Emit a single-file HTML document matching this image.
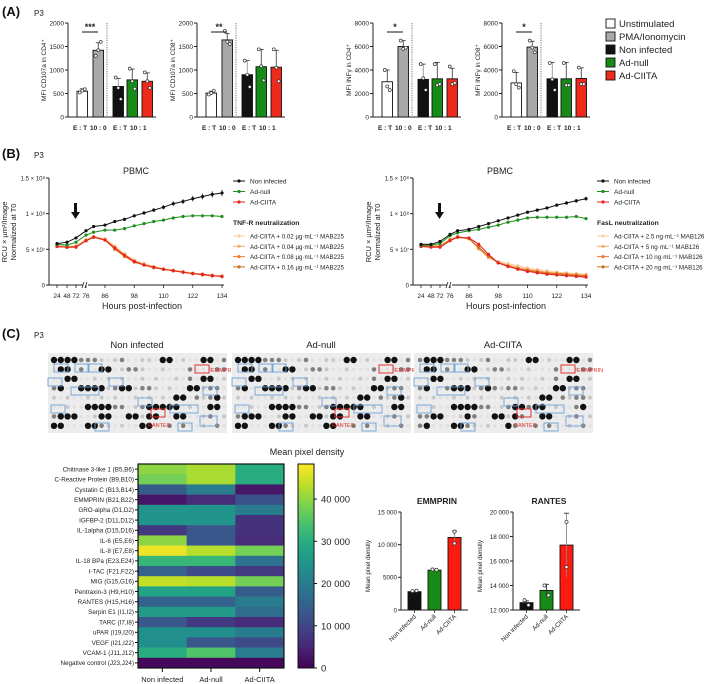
<!DOCTYPE html>
<html><head><meta charset="utf-8">
<style>
html,body{margin:0;padding:0;background:#fff;}
svg{display:block;font-family:"Liberation Sans",Arial,sans-serif;}
</style></head>
<body>
<svg id="fig" width="709" height="684" viewBox="0 0 709 684" xmlns="http://www.w3.org/2000/svg"></svg>
<script>
// ---------- Panel A data ----------
const aGroups = ["Unstimulated","PMA/Ionomycin","Non infected","Ad-null","Ad-CIITA"];
const aCD4Vals = [550,1420,650,790,760];
const aCD4Errs = [50,160,170,230,180];
const aCD4Pts = [[520,560,590],[1300,1420,1600],[840,620,380],[1030,760,600],[950,760,620]];
const aCD8Vals = [510,1640,900,1070,1060];
const aCD8Errs = [40,140,300,370,360];
const aCD8Pts = [[480,510,560],[1830,1600,1550],[1200,900,640],[1440,1080,780],[1440,1050,760]];
const aIFN4Vals = [3000,6000,3200,3250,3250];
const aIFN4Errs = [1000,500,1300,1400,900];
const aIFN4Pts = [[4000,2600,2300],[6500,5800,5900],[4500,3300,2300],[4500,2700,2800],[4300,2800,2900]];
const aIFN8Vals = [2900,5950,3250,3250,3280];
const aIFN8Errs = [900,500,1400,1400,900];
const aIFN8Pts = [[3900,2800,2500],[6500,5900,5500],[4600,3200,2300],[4600,2700,2700],[4200,2800,2800]];
const aTicks2000 = [0,500,1000,1500,2000];
const aTicks8000 = [0,2000,4000,6000,8000];
// ---------- Panel B data ----------
const bHours = [24,48,72,76,80,86,90,94,98,102,106,110,114,118,122,126,130,134];
const bTickHours = [24,48,72,76,86,98,110,122,134];
const bYTicks = [0,0.5,1.0,1.5];
const bYTickLabels = ["0","5 × 10⁷","1 × 10⁸","1.5 × 10⁸"];
const bL_NI = [0.58,0.60,0.66,0.76,0.82,0.84,0.89,0.92,0.97,1.01,1.05,1.09,1.14,1.17,1.21,1.24,1.27,1.29];
const bL_Null = [0.57,0.56,0.60,0.70,0.74,0.77,0.77,0.79,0.83,0.86,0.89,0.91,0.94,0.96,0.97,0.97,0.97,0.96];
const bL_CIITA = [0.54,0.53,0.53,0.62,0.67,0.63,0.52,0.42,0.33,0.28,0.25,0.22,0.20,0.18,0.16,0.15,0.13,0.12];
const bL_T1 = [0.55,0.54,0.55,0.64,0.68,0.65,0.55,0.44,0.35,0.30,0.26,0.23,0.21,0.19,0.17,0.15,0.14,0.13];
const bL_T2 = [0.55,0.54,0.54,0.63,0.68,0.64,0.53,0.42,0.34,0.29,0.25,0.22,0.20,0.18,0.16,0.15,0.13,0.12];
const bL_T3 = [0.54,0.53,0.54,0.62,0.67,0.63,0.50,0.40,0.32,0.28,0.24,0.22,0.20,0.18,0.16,0.14,0.13,0.12];
const bL_T4 = [0.54,0.53,0.54,0.62,0.67,0.63,0.51,0.41,0.33,0.28,0.25,0.22,0.20,0.18,0.16,0.15,0.13,0.12];
const bR_NI = [0.57,0.57,0.61,0.71,0.76,0.78,0.82,0.86,0.90,0.94,0.98,1.02,1.05,1.08,1.12,1.15,1.18,1.21];
const bR_Null = [0.56,0.56,0.58,0.69,0.73,0.76,0.78,0.81,0.84,0.88,0.91,0.94,0.95,0.95,0.95,0.95,0.96,0.93];
const bR_CIITA = [0.54,0.53,0.53,0.62,0.67,0.66,0.57,0.43,0.31,0.26,0.22,0.19,0.17,0.15,0.14,0.13,0.12,0.11];
const bR_F1 = [0.56,0.55,0.55,0.64,0.68,0.65,0.50,0.38,0.33,0.30,0.27,0.24,0.22,0.20,0.18,0.17,0.16,0.15];
const bR_F2 = [0.55,0.55,0.55,0.64,0.68,0.65,0.51,0.39,0.32,0.28,0.25,0.22,0.20,0.18,0.17,0.16,0.15,0.14];
const bR_F3 = [0.55,0.54,0.54,0.63,0.67,0.65,0.52,0.40,0.31,0.27,0.23,0.21,0.19,0.17,0.16,0.15,0.14,0.13];
const bR_F4 = [0.55,0.54,0.54,0.63,0.67,0.65,0.53,0.41,0.31,0.26,0.23,0.20,0.18,0.16,0.15,0.14,0.13,0.12];
// ---------- Panel C data ----------
const hmRows = ["Chitinase 3-like 1 (B5,B6)","C-Reactive Protein (B9,B10)","Cystatin C (B13,B14)","EMMPRIN (B21,B22)","GRO-alpha (D1,D2)","IGFBP-2 (D11,D12)","IL-1alpha (D15,D16)","IL-6 (E5,E6)","IL-8 (E7,E8)","IL-18 BPa (E23,E24)","I-TAC (F21,F22)","MIG (G15,G16)","Pentraxin-3 (H9,H10)","RANTES (H15,H16)","Serpin E1 (I1,I2)","TARC (I7,I8)","uPAR (I19,I20)","VEGF (I21,I22)","VCAM-1 (J11,J12)","Negative control (J23,J24)"];
const hmCols = ["Non infected","Ad-null","Ad-CIITA"];
const hmNonInf = [40000,38000,14000,3000,25000,25000,8000,40000,47000,32000,15000,44000,28000,15000,26000,13000,24000,24000,30000,1000];
const hmAdNull = [42000,42000,20000,6000,25000,25000,13000,13000,43000,32000,11000,43000,28000,15000,26000,8000,24000,13000,35000,1000];
const hmAdCIITA = [30000,30000,3000,12000,20000,7000,7000,6000,38000,18000,8000,38000,14000,20000,17000,6000,20000,11000,20000,1000];
const cbTicks = [0,10000,20000,30000,40000];
const cbTickLabels = ["0","10 000","20 000","30 000","40 000"];
const emCats = ["Non infected","Ad-null","Ad-CIITA"];
const emVals = [2800,6100,11100];
const emErrs = [150,100,1000];
const emPts = [[2900,2950],[6200,6150],[12000,10200]];
const emTicks = [0,5000,10000,15000];
const emTickLabels = ["0","5000","10 000","15 000"];
const raVals = [12600,13600,17300];
const raErrs = [150,500,2600];
const raPts = [[12800,12400],[14000,13200],[19200,15500]];
const raTicks = [12000,14000,16000,18000,20000];
const raTickLabels = ["12 000","14 000","16 000","18 000","20 000"];

const NS = "http://www.w3.org/2000/svg";
const svg = document.getElementById("fig");
function el(tag, attrs, name, parent){
  const e = document.createElementNS(NS, tag);
  for (const k in attrs) e.setAttribute(k, attrs[k]);
  
  
  (parent || svg).appendChild(e);
  return e;
}
function tx(x, y, s, attrs, name, parent){
  const a = Object.assign({x:x, y:y, 'font-size':7, fill:'#222'}, attrs || {});
  const e = el('text', a, name, parent);
  e.textContent = s;
  return e;
}
function line(x1,y1,x2,y2,stroke,w,name,parent,extra){
  return el('line', Object.assign({x1:x1,y1:y1,x2:x2,y2:y2,stroke:stroke,'stroke-width':w}, extra||{}), name, parent);
}

// ================= PANEL A =================
tx(2, 16, "(A)", {'font-size':13,'font-weight':'bold',fill:'#111'}, "panel-a-label");
tx(34, 16, "P3", {'font-size':8}, "panel-a-p3");
const aColors = ["#ffffff","#a9a9a9","#111111","#178a17","#ee2a1d"];
const aOffsets = [9,25,45,59,74];
function aChart(id, ax, maxV, ticks, vals, errs, pts, ylab, sig){
  const g = el('g', {}, id + "-chart");
  const y0 = 117, yT = 23;
  const ys = v => y0 - (v / maxV) * (y0 - yT);
  line(ax, yT, ax, y0, '#222', 1, id + "-y-axis", g);
  line(ax, y0, ax + 88, y0, '#222', 1, id + "-x-axis", g);
  ticks.forEach(t => {
    line(ax - 3, ys(t), ax, ys(t), '#222', 1, id + "-y-tick", g);
    tx(ax - 4, ys(t) + 2.5, String(t), {'font-size':6.5,'text-anchor':'end'}, id + "-y-tick-label", g);
  });
  tx(0, 0, ylab, {'font-size':6.5,'text-anchor':'middle',transform:`translate(${ax-22},${(y0+yT)/2}) rotate(-90)`}, id + "-y-axis-title", g);
  line(ax + 39, yT, ax + 39, y0, '#555', 0.8, id + "-divider", g, {'stroke-dasharray':'1.2,1.2'});
  vals.forEach((v, i) => {
    const bx = ax + aOffsets[i], w = 10.5;
    el('rect', {x:bx, y:ys(v), width:w, height:y0 - ys(v), fill:aColors[i], stroke:'#111','stroke-width':0.9}, id + "-bar-" + i, g);
    const cx = bx + w/2, ye = ys(v + errs[i]);
    line(cx, ys(v), cx, ye, i === 2 ? '#888' : '#333', 0.8, id + "-error-bar", g);
    line(cx - 2.5, ye, cx + 2.5, ye, '#333', 0.8, id + "-error-cap", g);
    pts[i].forEach((p, j) => {
      el('circle', {cx: cx + (j - 1) * 2.5, cy: ys(p), r:1.5, fill:'#fff', stroke:'#333','stroke-width':0.7}, id + "-point", g);
    });
  });
  line(ax + 14, 32, ax + 30, 32, '#111', 1, id + "-sig-line", g);
  tx(ax + 22, 30, sig, {'font-size':9,'font-weight':'bold','text-anchor':'middle'}, id + "-sig-stars", g);
  tx(ax + 5, 130, "E : T", {'font-size':6.5,'font-weight':'bold'}, id + "-et-label-1", g);
  tx(ax + 22, 130, "10 : 0", {'font-size':6.5,'font-weight':'bold'}, id + "-ratio-label-1", g);
  tx(ax + 45, 130, "E : T", {'font-size':6.5,'font-weight':'bold'}, id + "-et-label-2", g);
  tx(ax + 62, 130, "10 : 1", {'font-size':6.5,'font-weight':'bold'}, id + "-ratio-label-2", g);
}
aChart("cd107a-cd4", 68, 2000, aTicks2000, aCD4Vals, aCD4Errs, aCD4Pts, "MFI CD107a in CD4⁺", "***");
aChart("cd107a-cd8", 197, 2000, aTicks2000, aCD8Vals, aCD8Errs, aCD8Pts, "MFI CD107a in CD8⁺", "**");
aChart("ifng-cd4", 373, 8000, aTicks8000, aIFN4Vals, aIFN4Errs, aIFN4Pts, "MFI INFγ in CD4⁺", "*");
aChart("ifng-cd8", 502, 8000, aTicks8000, aIFN8Vals, aIFN8Errs, aIFN8Pts, "MFI INFγ in CD8⁺", "*");
aGroups.forEach((gname, i) => {
  const y = 19 + i * 13;
  el('rect', {x:606, y:y, width:9, height:9, fill:aColors[i], stroke:'#111','stroke-width':0.9}, "legend-swatch-" + i);
  tx(619, y + 8, gname, {'font-size':9.5}, "legend-entry-" + i);
});

// ================= PANEL B =================
tx(2, 158, "(B)", {'font-size':13,'font-weight':'bold',fill:'#111'}, "panel-b-label");
tx(34, 158, "P3", {'font-size':8}, "panel-b-p3");
const xAnch = [[24,57],[48,67],[72,76],[76,86],[86,105],[134,222]];
function bx(h, off){
  for (let i = 0; i < xAnch.length - 1; i++){
    const [h0,p0] = xAnch[i], [h1,p1] = xAnch[i+1];
    if (h <= h1) return off + p0 + (h - h0) / (h1 - h0) * (p1 - p0);
  }
  return off + 222;
}
const byS = v => 285 - v / 1.5 * (285 - 178);
function bChart(id, off, series, legendHeader, legendTreat){
  const g = el('g', {}, id + "-chart");
  const ax = 49 + off;
  line(ax, 178, ax, 285, '#222', 1, id + "-y-axis", g);
  line(ax, 285, 83 + off, 285, '#222', 1, id + "-x-axis-left", g);
  line(88 + off, 285, 224 + off, 285, '#222', 1, id + "-x-axis-right", g);
  line(82 + off, 288, 84 + off, 282, '#222', 0.8, id + "-axis-break-1", g);
  line(85 + off, 288, 87 + off, 282, '#222', 0.8, id + "-axis-break-2", g);
  bYTicks.forEach((t, i) => {
    line(ax - 3, byS(t), ax, byS(t), '#222', 1, id + "-y-tick", g);
    tx(ax - 4, byS(t) + 2.5, bYTickLabels[i], {'font-size':6,'text-anchor':'end'}, id + "-y-tick-label", g);
  });
  bTickHours.forEach(h => {
    line(bx(h, off), 285, bx(h, off), 288, '#222', 0.8, id + "-x-tick", g);
    tx(bx(h, off), 298, String(h), {'font-size':6.5,'text-anchor':'middle'}, id + "-x-tick-label", g);
  });
  tx(142 + off, 309, "Hours post-infection", {'font-size':9,'text-anchor':'middle'}, id + "-x-axis-title", g);
  tx(0, 0, "RCU × µm²/Image", {'font-size':7.5,'text-anchor':'middle',transform:`translate(${off+7},232) rotate(-90)`}, id + "-y-axis-title-1", g);
  tx(0, 0, "Normalized at T0", {'font-size':7.5,'text-anchor':'middle',transform:`translate(${off+16},232) rotate(-90)`}, id + "-y-axis-title-2", g);
  tx(136 + off, 174, "PBMC", {'font-size':9,'text-anchor':'middle'}, id + "-title", g);
  el('path', {d:`M${74+off},203 L${74+off},212 L${71+off},212 L${75.5+off},219 L${80+off},212 L${77+off},212 L${77+off},203 Z`, fill:'#111'}, id + "-infection-arrow", g);
  series.forEach(s => {
    let d = "";
    s.vals.forEach((v, i) => { d += (i ? "L" : "M") + bx(bHours[i], off).toFixed(1) + "," + byS(v).toFixed(1); });
    el('path', {d:d, fill:'none', stroke:s.color, 'stroke-width':1}, id + "-line-" + s.key, g);
    s.vals.forEach((v, i) => {
      if (s.err && i > 3) {
        const e = s.err * (i / bHours.length);
        line(bx(bHours[i], off), byS(v - e), bx(bHours[i], off), byS(v + e), s.color, 0.7, id + "-error-" + s.key, g);
      }
      el('circle', {cx:bx(bHours[i], off), cy:byS(v), r:1.6, fill:s.color}, id + "-point-" + s.key, g);
    });
  });
  const lx = 233 + off;
  const main = series.slice(-3).reverse();
  main.forEach((s, i) => {
    const y = 181 + i * 10.5;
    line(lx, y, lx + 12, y, s.color, 1, id + "-legend-line", g);
    el('circle', {cx:lx + 6, cy:y, r:1.6, fill:s.color}, id + "-legend-marker", g);
    tx(lx + 17, y + 2.5, s.label, {'font-size':6.5}, id + "-legend-entry", g);
  });
  tx(lx, 225, legendHeader, {'font-size':6.8,'font-weight':'bold'}, id + "-legend-header", g);
  series.slice(0, 4).forEach((s, i) => {
    const y = 236 + i * 10.3;
    line(lx, y, lx + 12, y, s.color, 1, id + "-legend-line", g);
    el('circle', {cx:lx + 6, cy:y, r:1.6, fill:s.color}, id + "-legend-marker", g);
    tx(lx + 17, y + 2.5, legendTreat[i], {'font-size':6.2}, id + "-legend-entry", g);
  });
}
const tCols = ["#f9cfa3","#f7ac6c","#f07a30","#c77221"];
bChart("tnfr", 0, [
  {key:"t1",vals:bL_T1,color:tCols[0],err:0.03},
  {key:"t2",vals:bL_T2,color:tCols[1],err:0.03},
  {key:"t3",vals:bL_T3,color:tCols[2],err:0.03},
  {key:"t4",vals:bL_T4,color:tCols[3],err:0.03},
  {key:"ciita",vals:bL_CIITA,color:"#e8231f",label:"Ad-CIITA",err:0.02},
  {key:"null",vals:bL_Null,color:"#1e8f1e",label:"Ad-null",err:0.02},
  {key:"ni",vals:bL_NI,color:"#111",label:"Non infected",err:0.05}
], "TNF-R neutralization", ["Ad-CIITA + 0.02 µg·mL⁻¹  MAB225","Ad-CIITA + 0.04 µg·mL⁻¹  MAB225","Ad-CIITA + 0.08 µg·mL⁻¹  MAB225","Ad-CIITA + 0.16 µg·mL⁻¹  MAB225"]);
bChart("fasl", 364, [
  {key:"f1",vals:bR_F1,color:tCols[0],err:0.03},
  {key:"f2",vals:bR_F2,color:tCols[1],err:0.03},
  {key:"f3",vals:bR_F3,color:tCols[2],err:0.03},
  {key:"f4",vals:bR_F4,color:tCols[3],err:0.03},
  {key:"ciita",vals:bR_CIITA,color:"#e8231f",label:"Ad-CIITA",err:0.02},
  {key:"null",vals:bR_Null,color:"#1e8f1e",label:"Ad-null",err:0.02},
  {key:"ni",vals:bR_NI,color:"#111",label:"Non infected",err:0.03}
], "FasL neutralization", ["Ad-CIITA + 2.5 ng·mL⁻¹  MAB126","Ad-CIITA + 5 ng·mL⁻¹  MAB126","Ad-CIITA + 10 ng·mL⁻¹  MAB126","Ad-CIITA + 20 ng·mL⁻¹  MAB126"]);

// ================= PANEL C =================
tx(2, 338, "(C)", {'font-size':13,'font-weight':'bold',fill:'#111'}, "panel-c-label");
tx(34, 338, "P3", {'font-size':8}, "panel-c-p3");
const blotPattern = [
  "####ooo- -o  -- ## -  ## o",
  " ## o  ## -oo-  -   o  -oo",
  "  ##  - - -  - -  - o ## -",
  "o#  ####-o##-oo- -  ##-oo ",
  "- -  - - -  - - - ## o-o#-",
  "  -  ####oo -o##### -  ## ",
  "o###  -##  ##-##  ##  -o -",
  "##   ##o- -  ##  o o  - o "
];
const blots = [{x:48,t:"Non infected"},{x:232,t:"Ad-null"},{x:414,t:"Ad-CIITA"}];
blots.forEach((b, bi) => {
  const g = el('g', {}, "blot-" + bi);
  tx(b.x + 89, 348, b.t, {'font-size':9.5,'text-anchor':'middle'}, "blot-title-" + bi, g);
  el('rect', {x:b.x, y:353, width:179, height:80, fill:'#ececec'}, "blot-membrane-" + bi, g);
  blotPattern.forEach((row, r) => {
    for (let c = 0; c < row.length; c++){
      let ch = row[c];
      if (bi === 2 && (r + c) % 7 === 0 && ch === '#') ch = 'o';
      const cx = b.x + 6 + c * 6.8, cy = 360 + r * 9.4;
      let fill = '#e2e2e2', rr = 1.8;
      if (ch === '#') { fill = '#111'; rr = 3.2; }
      else if (ch === 'o') { fill = '#808080'; rr = 2.3; }
      else if (ch === '-') { fill = '#c8c8c8'; rr = 2.0; }
      el('circle', {cx:cx, cy:cy, r:rr, fill:fill}, "blot-spot", g);
    }
  });
  [[6,364,14,8],[27,364,14,8],[40,364,14,8],[0,378,14,8],[23,387,28,8],[61,378,14,8],[155,387,14,8],[90,398,14,8],[3,405,14,8],[122,405,28,8],[130,423,14,8],[47,423,14,8],[152,416,17,10]].forEach(r => {
    el('rect', {x:b.x + r[0], y:r[1], width:r[2], height:r[3], fill:'none', stroke:'#6fa0d8','stroke-width':0.9}, "blot-highlight-box", g);
  });
  el('rect', {x:b.x + 147, y:365, width:14, height:8, fill:'none', stroke:'#e23030','stroke-width':1}, "emmprin-box", g);
  tx(b.x + 163, 372, "EMMPRIN", {'font-size':5.5, fill:'#e23030'}, "emmprin-label", g);
  el('rect', {x:b.x + 103, y:409, width:14, height:8, fill:'none', stroke:'#e23030','stroke-width':1}, "rantes-box", g);
  tx(b.x + 100, 427, "RANTES", {'font-size':5.5, fill:'#e23030'}, "rantes-label", g);
});

// Heatmap
const vStops = ["#440154","#482475","#414487","#355f8d","#2a788e","#21918c","#22a884","#44bf70","#7ad151","#bddf26","#fde725"];
function hex2rgb(h){ return [1,3,5].map(i => parseInt(h.substr(i,2),16)); }
function viridis(t){
  t = Math.max(0, Math.min(1, t));
  const p = t * 10, i = Math.min(9, Math.floor(p)), f = p - i;
  const a = hex2rgb(vStops[i]), b = hex2rgb(vStops[i+1]);
  return `rgb(${a.map((v,k)=>Math.round(v+(b[k]-v)*f)).join(',')})`;
}
const hmMax = 48300;
const hmG = el('g', {}, "heatmap");
const hmX = 138, hmY = 464, hmW = 146, hmH = 204;
const rowH = hmH / hmRows.length, colW = hmW / hmCols.length;
const hmSeries = [hmNonInf, hmAdNull, hmAdCIITA];
hmSeries.forEach((col, ci) => {
  col.forEach((v, ri) => {
    el('rect', {x:hmX + ci * colW, y:hmY + ri * rowH, width:colW + 0.3, height:rowH + 0.3, fill:viridis(v / hmMax)}, "heatmap-cell", hmG);
  });
});
el('rect', {x:hmX, y:hmY, width:hmW, height:hmH, fill:'none', stroke:'#111','stroke-width':1.2}, "heatmap-frame", hmG);
hmRows.forEach((r, i) => {
  const y = hmY + (i + 0.5) * rowH;
  line(hmX - 3, y, hmX, y, '#111', 1, "heatmap-row-tick", hmG);
  tx(hmX - 4, y + 2.3, r, {'font-size':6.3,'text-anchor':'end'}, "heatmap-row-label", hmG);
});
hmCols.forEach((c, i) => {
  const x = hmX + (i + 0.5) * colW;
  line(x, hmY + hmH, x, hmY + hmH + 4, '#111', 1, "heatmap-col-tick", hmG);
  tx(x, 682, c, {'font-size':7.5,'text-anchor':'middle'}, "heatmap-col-label", hmG);
});
// colorbar
const cbG = el('g', {}, "colorbar");
const cbX = 298, cbY = 464, cbH = 204;
for (let i = 0; i < 60; i++){
  el('rect', {x:cbX, y:cbY + cbH - (i+1) * cbH/60, width:16, height:cbH/60 + 0.4, fill:viridis((i + 0.5) / 60)}, "colorbar-segment", cbG);
}
el('rect', {x:cbX, y:cbY, width:16, height:cbH, fill:'none', stroke:'#111','stroke-width':1}, "colorbar-frame", cbG);
cbTicks.forEach((t, i) => {
  const y = cbY + cbH - t / hmMax * cbH;
  line(cbX + 16, y, cbX + 19, y, '#111', 1, "colorbar-tick", cbG);
  tx(cbX + 23, y + 3.5, cbTickLabels[i], {'font-size':9.5}, "colorbar-tick-label", cbG);
});
tx(307, 455, "Mean pixel density", {'font-size':9,'text-anchor':'middle'}, "colorbar-title", cbG);

// Small bar charts
const cColors = ["#111111","#178a17","#ff1a10"];
function cChart(id, title, ax, minV, maxV, ticks, tickLabels, vals, errs, pts){
  const g = el('g', {}, id + "-chart");
  const y0 = 610, yT = 512;
  const ys = v => y0 - (v - minV) / (maxV - minV) * (y0 - yT);
  tx(ax + 36, 504, title, {'font-size':8.5,'font-weight':'bold','text-anchor':'middle'}, id + "-title", g);
  line(ax, yT, ax, y0, '#222', 1, id + "-y-axis", g);
  line(ax, y0, ax + 67, y0, '#222', 1, id + "-x-axis", g);
  ticks.forEach((t, i) => {
    line(ax - 3, ys(t), ax, ys(t), '#222', 1, id + "-y-tick", g);
    tx(ax - 4, ys(t) + 2.3, tickLabels[i], {'font-size':6.3,'text-anchor':'end'}, id + "-y-tick-label", g);
  });
  tx(0, 0, "Mean pixel density", {'font-size':6.3,'text-anchor':'middle',transform:`translate(${ax-31},${(y0+yT)/2+5}) rotate(-90)`}, id + "-y-axis-title", g);
  vals.forEach((v, i) => {
    const bx = ax + 7 + i * 20, w = 13;
    el('rect', {x:bx, y:ys(v), width:w, height:y0 - ys(v), fill:cColors[i], stroke:'#111','stroke-width':0.9}, id + "-bar-" + i, g);
    const cx = bx + w/2;
    line(cx, ys(v - errs[i]), cx, ys(v + errs[i]), i === 2 ? '#888' : '#333', 0.9, id + "-error-bar", g);
    line(cx - 2.5, ys(v + errs[i]), cx + 2.5, ys(v + errs[i]), '#333', 0.9, id + "-error-cap", g);
    pts[i].forEach((p, j) => {
      el('circle', {cx:cx + (pts[i].length > 1 && i < 2 ? (j ? 2 : -2) : 0), cy:ys(p), r:1.6, fill:'#fff', stroke:'#333','stroke-width':0.7}, id + "-point", g);
    });
    line(cx, y0, cx, y0 + 3, '#222', 0.8, id + "-x-tick", g);
    tx(0, 0, emCats[i], {'font-size':6.3,'text-anchor':'end',transform:`translate(${cx+2},${y0+7}) rotate(-45)`}, id + "-x-tick-label", g);
  });
}
cChart("emmprin", "EMMPRIN", 401, 0, 15000, emTicks, emTickLabels, emVals, emErrs, emPts);
cChart("rantes", "RANTES", 513, 12000, 20000, raTicks, raTickLabels, raVals, raErrs, raPts);
</script>
</body></html>
